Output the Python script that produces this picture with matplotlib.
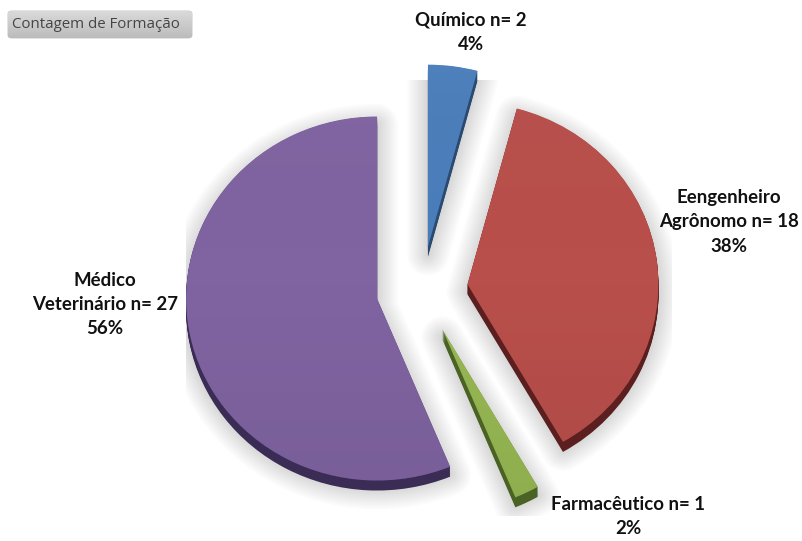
import numpy as np
import matplotlib
matplotlib.use("Agg")
import matplotlib.pyplot as plt
from matplotlib.patches import FancyBboxPatch, Rectangle
from matplotlib.colors import LinearSegmentedColormap

# Survey counts per professional background
categories = ["Químico", "Eengenheiro\nAgrônomo", "Farmacêutico", "Médico\nVeterinário"]
counts = [2, 18, 1, 27]
percent_labels = ["4%", "38%", "2%", "56%"]
face_colors = ["#4A7EBB", "#B94F4B", "#98B954", "#8064A2"]
side_colors = ["#2A4A70", "#5A1F1E", "#4A6325", "#3B2C55"]
explode = [0.24] * 4

W, H = 803, 541
CX, CY, RX, RY = 422, 290, 191, 182
DEPTH = 10 / RY

fig = plt.figure(figsize=(W / 100, H / 100), dpi=100, facecolor="white")
ax = fig.add_axes([0, 0, 1, 1])


def pie_layer(colors, dy=0.0, **wedgeprops):
    wedges, _ = ax.pie(counts, explode=explode, colors=colors, startangle=90,
                       counterclock=False, center=(0, dy), radius=1,
                       wedgeprops=wedgeprops)
    return wedges


def frame():
    ax.set_aspect("auto")
    ax.set_xlim(-CX / RX, (W - CX) / RX)
    ax.set_ylim((CY - H) / RY, CY / RY)
    ax.axis("off")


def fx(px):
    return px / W


def fy(py):
    return 1 - py / H


# Soft drop shadow: stacked translucent outlines
for lw in np.arange(30, 0, -3):
    pie_layer(["black"] * 4, dy=-8 / RY, linewidth=lw, edgecolor="black",
              alpha=0.015, joinstyle="round")

# The shadow only exists inside a band around the pie; white panels hide the rest
for px0, py0, px1, py1 in [(0, 0, W, 80), (0, 80, 186, H), (186, 516, W, H), (672, 80, W, 516)]:
    ax.add_patch(Rectangle((fx(px0), fy(py1)), (px1 - px0) / W, (py1 - py0) / H,
                           transform=fig.transFigure, facecolor="white",
                           edgecolor="none", zorder=1))

# Extruded sides of the slices
for step in np.linspace(DEPTH, 0.5 / RY, 10):
    pie_layer(side_colors, dy=-step, linewidth=0)

# Top faces
tops = pie_layer(face_colors, linewidth=0)
frame()

# Gentle vertical shading across each top face
shade = LinearSegmentedColormap.from_list("shade", [(1, 1, 1, 0.05), (0, 0, 0, 0.0), (0, 0, 0, 0.07)])
grad = np.linspace(0, 1, 256)[:, None]
x0, x1 = ax.get_xlim()
y0, y1 = ax.get_ylim()
for w in tops:
    im = ax.imshow(grad, cmap=shade, extent=(x0, x1, y0, y1),
                   aspect="auto", zorder=w.get_zorder() + 0.1, origin="upper")
    im.set_clip_path(w)
frame()

# Filter button in the top-left corner
button = FancyBboxPatch((fx(8), fy(38)), 184 / W, 27 / H, transform=fig.transFigure,
                        boxstyle="round,pad=0,rounding_size=0.005", linewidth=0.6,
                        edgecolor="#BDBDBD", facecolor="#CCCCCC", zorder=5)
ax.add_patch(button)
button_grad = LinearSegmentedColormap.from_list("btn", ["#DADADA", "#BCBCBC"])
bim = ax.imshow(grad, cmap=button_grad, aspect="auto", zorder=5.1,
                extent=(x0 + 8 / RX, x0 + 192 / RX, y1 - 38 / RY, y1 - 11 / RY))
bim.set_clip_path(button)
frame()
fig.text(fx(12), fy(24), "Contagem de Formação", family="Open Sans", fontsize=10.8,
         color="#454545", ha="left", va="center", zorder=6)

# Slice labels: name with count, then share
label_anchor = [(471, 32), (729, 222), (628, 517), (105, 304)]
for name, n, pct, (x, y) in zip(categories, counts, percent_labels, label_anchor):
    fig.text(fx(x), fy(y), f"{name} n= {n}\n{pct}", family="Lato", fontweight="bold",
             fontsize=13.4, color="#111111", ha="center", va="center", linespacing=1.5)

fig.savefig("out.png", dpi=100)
